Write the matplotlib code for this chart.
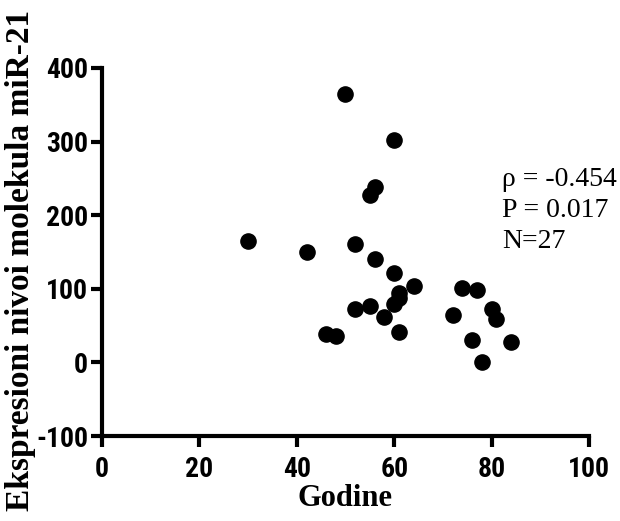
import matplotlib.pyplot as plt
from matplotlib import font_manager

# age (years) vs miR-21 expression level
godine = [30, 42, 50, 60, 55, 56, 52, 56, 60, 64, 61, 61, 60, 55, 52, 58,
          46, 48, 61, 72, 74, 77, 80, 81, 76, 84, 78]
ekspresija = [165, 150, 365, 302, 228, 238, 161, 141, 121, 104, 94, 88, 80,
              77, 73, 62, 38, 36, 42, 64, 101, 99, 72, 59, 31, 28, 1]

x_ticks = [0, 20, 40, 60, 80, 100]
y_ticks = [-100, 0, 100, 200, 300, 400]
stats_text = "\u03c1 = -0.454\nP = 0.017\nN=27"

# pick a narrow bold sans for the tick numbers if one is installed
fonts = font_manager.fontManager.ttflist
names = {f.name for f in fonts}
tick_font, tick_stretch, tick_size = "Liberation Sans", "normal", 17.5
for cand in ("Liberation Sans Narrow", "Roboto Condensed", "Open Sans Condensed"):
    if cand in names:
        tick_font, tick_size = cand, 20
        break
else:
    if any(f.name == "DejaVu Sans" and f.stretch == "condensed" for f in fonts):
        tick_font, tick_stretch, tick_size = "DejaVu Sans", "condensed", 19

fig = plt.figure(figsize=(6.2, 5.21), dpi=100)
ax = fig.add_axes([0.1645, 0.163, 0.7855, 0.7065])

ax.scatter(godine, ekspresija, s=120, color="black", zorder=3, clip_on=False)

ax.set_xlim(0, 100)
ax.set_ylim(-100, 400)
ax.set_xticks(x_ticks)
ax.set_xticklabels([str(v) for v in x_ticks])
ax.set_yticks(y_ticks)
ax.set_yticklabels([str(v) for v in y_ticks])

for side in ("top", "right"):
    ax.spines[side].set_visible(False)
for side in ("left", "bottom"):
    ax.spines[side].set_linewidth(3)

ax.tick_params(direction="out", length=8, width=3, pad=2)
ax.tick_params(axis="x", pad=6)
for lab in ax.get_xticklabels() + ax.get_yticklabels():
    lab.set_fontfamily(tick_font)
    lab.set_fontstretch(tick_stretch)
    lab.set_fontweight("bold")
    lab.set_fontsize(tick_size)

ax.set_xlabel("Godine", fontfamily="Liberation Serif", fontweight="bold",
              fontsize=22, labelpad=1)
ax.set_ylabel("Ekspresioni nivoi molekula miR-21", fontfamily="Liberation Serif",
              fontweight="bold", fontsize=24)
ax.yaxis.set_label_coords(-0.135, 0.478)

ax.text(82.2, 206, stats_text, fontfamily="Liberation Serif", fontsize=20,
        linespacing=1.32, va="center", ha="left")

fig.savefig("out.png", dpi=100)
